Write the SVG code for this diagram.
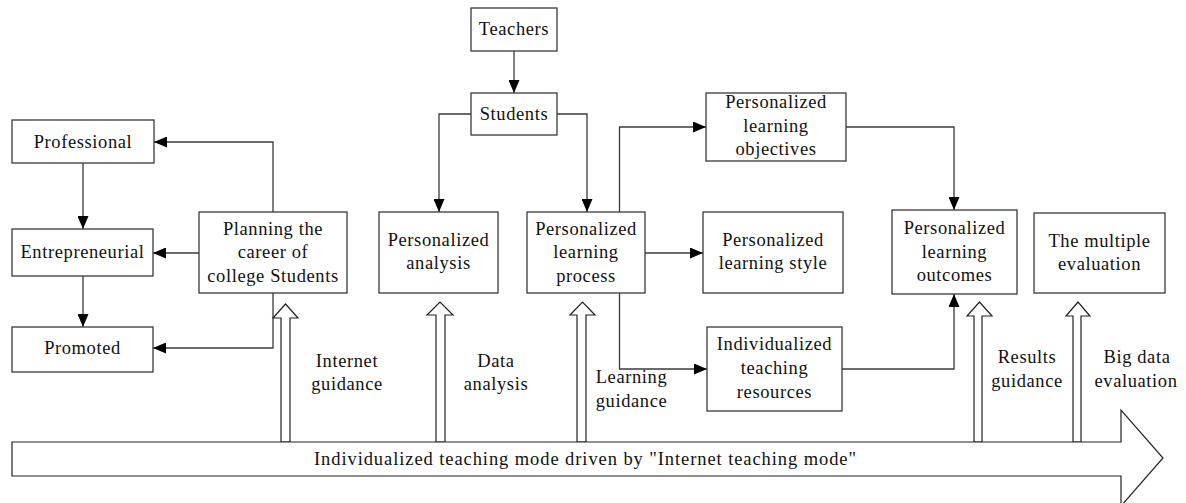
<svg xmlns="http://www.w3.org/2000/svg" width="1186" height="503" viewBox="0 0 1186 503">
<defs>
<style>
.box{fill:#fff;stroke:#3a3a3a;stroke-width:1.3}
.t{font-family:"Liberation Serif","DejaVu Serif",serif;font-size:18.5px;letter-spacing:0.6px;fill:#111;text-anchor:middle}
.tl{font-family:"Liberation Serif","DejaVu Serif",serif;font-size:18.5px;fill:#111;text-anchor:start}
.con{fill:none;stroke:#3a3a3a;stroke-width:1.3}
.hol{fill:#fff;stroke:#222;stroke-width:1.2}
</style>
<marker id="ah" viewBox="0 0 13 11" refX="13" refY="5.5" markerWidth="13" markerHeight="11" markerUnits="userSpaceOnUse" orient="auto">
<path d="M0,0 L13,5.5 L0,11 z" fill="#000"/>
</marker>
</defs>
<rect width="1186" height="503" fill="#fff"/>

<g id="connectors">
<path class="con" d="M514,51 V93" marker-end="url(#ah)"/>
<path class="con" d="M471,114 H439 V212" marker-end="url(#ah)"/>
<path class="con" d="M557,114 H587 V212" marker-end="url(#ah)"/>
<path class="con" d="M619.5,212 V127 H706" marker-end="url(#ah)"/>
<path class="con" d="M645,253 H703" marker-end="url(#ah)"/>
<path class="con" d="M619.5,293 V369 H707" marker-end="url(#ah)"/>
<path class="con" d="M846,127 H954 V210" marker-end="url(#ah)"/>
<path class="con" d="M842,369 H954 V294" marker-end="url(#ah)"/>
<path class="con" d="M273,212 V142 H154" marker-end="url(#ah)"/>
<path class="con" d="M199,253 H153" marker-end="url(#ah)"/>
<path class="con" d="M273,293 V348 H153" marker-end="url(#ah)"/>
<path class="con" d="M83,163 V229" marker-end="url(#ah)"/>
<path class="con" d="M83,276 V327" marker-end="url(#ah)"/>
</g>

<g id="flow">
<polygon class="hol" points="281,442 281,318 273,318 285.5,304 298,318 290,318 290,442"/>
<polygon class="hol" points="436,442 436,315 427,315 440,302 453,315 445,315 445,442"/>
<polygon class="hol" points="577,442 577,315 570,315 582.5,302 595,315 586,315 586,442"/>
<polygon class="hol" points="974,442 974,316 967,316 979.5,302 992,316 982,316 982,442"/>
<polygon class="hol" points="1073,442 1073,316 1066,316 1078,302 1090,316 1081,316 1081,442"/>
<polygon class="hol" points="12,442 1121,442 1121,410 1163,458 1121,506 1121,476 12,476"/>
<text class="tl" x="314" y="465" textLength="542" lengthAdjust="spacing">Individualized teaching mode driven by "Internet teaching mode"</text>
<text class="t" x="347" y="367">Internet</text>
<text class="t" x="347" y="390">guidance</text>
<text class="t" x="496" y="367">Data</text>
<text class="t" x="496" y="390">analysis</text>
<text class="t" x="631.5" y="383">Learning</text>
<text class="t" x="631.5" y="407">guidance</text>
<text class="t" x="1027" y="363">Results</text>
<text class="t" x="1027" y="387">guidance</text>
<text class="t" x="1137" y="363">Big data</text>
<text class="t" x="1136" y="387">evaluation</text>
</g>

<g id="professional">
<rect class="box" x="12" y="120" width="142" height="43"/>
<text class="t" x="83" y="148">Professional</text>
</g>
<g id="entrepreneurial">
<rect class="box" x="12" y="229" width="141" height="47"/>
<text class="t" x="82.5" y="258">Entrepreneurial</text>
</g>
<g id="promoted">
<rect class="box" x="12" y="327" width="141" height="45"/>
<text class="t" x="82.5" y="354">Promoted</text>
</g>
<g id="planning">
<rect class="box" x="199" y="212" width="148" height="81"/>
<text class="t" x="273" y="235">Planning the</text>
<text class="t" x="273" y="258">career of</text>
<text class="t" x="273" y="282">college Students</text>
</g>
<g id="teachers">
<rect class="box" x="471" y="8" width="86" height="43"/>
<text class="t" x="514" y="35">Teachers</text>
</g>
<g id="students">
<rect class="box" x="471" y="93" width="86" height="42"/>
<text class="t" x="514" y="120">Students</text>
</g>
<g id="analysis">
<rect class="box" x="379" y="212" width="119" height="81"/>
<text class="t" x="438.5" y="246">Personalized</text>
<text class="t" x="438.5" y="269">analysis</text>
</g>
<g id="process">
<rect class="box" x="527" y="212" width="118" height="81"/>
<text class="t" x="586" y="235">Personalized</text>
<text class="t" x="586" y="258">learning</text>
<text class="t" x="586" y="282">process</text>
</g>
<g id="objectives">
<rect class="box" x="706" y="93" width="140" height="68"/>
<text class="t" x="776" y="108">Personalized</text>
<text class="t" x="776" y="132">learning</text>
<text class="t" x="776" y="155">objectives</text>
</g>
<g id="style">
<rect class="box" x="703" y="212" width="140" height="81"/>
<text class="t" x="773" y="246">Personalized</text>
<text class="t" x="773" y="269">learning style</text>
</g>
<g id="resources">
<rect class="box" x="707" y="327" width="135" height="84"/>
<text class="t" x="774.5" y="350">Individualized</text>
<text class="t" x="774.5" y="374">teaching</text>
<text class="t" x="774.5" y="398">resources</text>
</g>
<g id="outcomes">
<rect class="box" x="892" y="210" width="125" height="84"/>
<text class="t" x="954.5" y="234">Personalized</text>
<text class="t" x="954.5" y="258">learning</text>
<text class="t" x="954.5" y="281">outcomes</text>
</g>
<g id="multiple">
<rect class="box" x="1034" y="213" width="131" height="80"/>
<text class="t" x="1099.5" y="247">The multiple</text>
<text class="t" x="1099.5" y="270">evaluation</text>
</g>
</svg>
